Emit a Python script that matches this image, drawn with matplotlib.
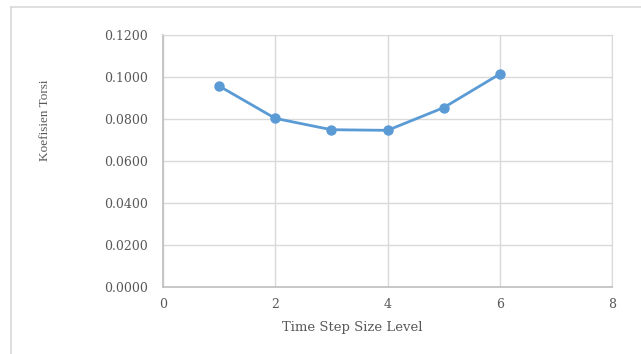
import matplotlib
matplotlib.use("Agg")
import matplotlib.pyplot as plt

levels = [1, 2, 3, 4, 5, 6]
koefisien = [0.0957, 0.0803, 0.0749, 0.0746, 0.0854, 0.1014]
x_ticks = [0, 2, 4, 6, 8]
y_ticks = [0.0, 0.02, 0.04, 0.06, 0.08, 0.10, 0.12]

W, H = 641, 354
fig = plt.figure(figsize=(W / 100, H / 100), dpi=100)
fig.patch.set_facecolor("white")

# outer chart-area frame (top and left edges only)
fig.add_artist(plt.Line2D([11 / W, 1], [1 - 7 / H, 1 - 7 / H], color="#d9d9d9", lw=1.2, transform=fig.transFigure))
fig.add_artist(plt.Line2D([11 / W, 11 / W], [0, 1 - 7 / H], color="#d9d9d9", lw=1.2, transform=fig.transFigure))

left, right, top, bottom = 163, 612, 35, 287
ax = fig.add_axes([left / W, 1 - bottom / H, (right - left) / W, (bottom - top) / H])

ax.plot(levels, koefisien, color="#5b9bd5", lw=2, marker="o", markersize=6.5,
        markerfacecolor="#5b9bd5", markeredgecolor="#5b9bd5", zorder=3)

ax.set_xlim(0, 8)
ax.set_ylim(0, 0.12)
ax.set_xticks(x_ticks)
ax.set_yticks(y_ticks)
ax.set_yticklabels([f"{v:.4f}" for v in y_ticks])
ax.grid(True, color="#d9d9d9", lw=1)
ax.set_axisbelow(True)
for side in ["top", "right"]:
    ax.spines[side].set_color("#d9d9d9")
for side in ["left", "bottom"]:
    ax.spines[side].set_color("#bfbfbf")
    ax.spines[side].set_linewidth(1.2)
ax.tick_params(axis="y", length=0, labelsize=9, labelcolor="#595959", pad=11)
ax.tick_params(axis="x", length=0, labelsize=9, labelcolor="#595959", pad=8)
for lab in ax.get_xticklabels() + ax.get_yticklabels():
    lab.set_family("DejaVu Serif")

fig.text(45 / W, 1 - 120 / H, "Koefisien Torsi", rotation=90, ha="center", va="center",
         fontsize=9.5, color="#595959", family="Liberation Serif")
fig.text(352 / W, 1 - 328 / H, "Time Step Size Level", ha="center", va="center",
         fontsize=9.5, color="#595959", family="DejaVu Serif")

fig.savefig("out.png", dpi=100)
